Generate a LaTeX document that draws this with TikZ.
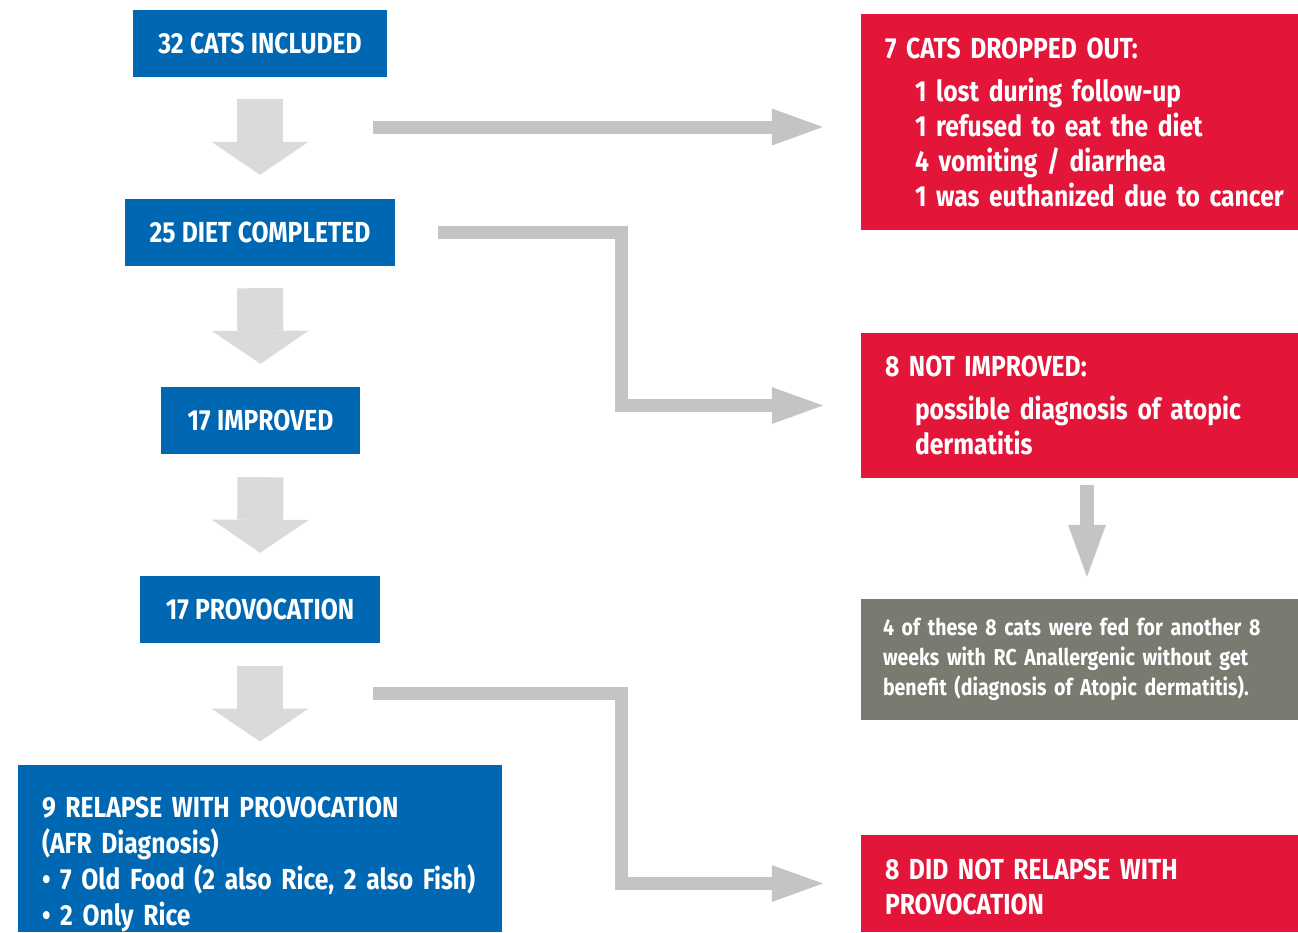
\documentclass[tikz,border=0pt]{standalone}
\usepackage{fontspec}
\setmainfont{Fira Sans}[FakeStretch=0.85]
\usepackage{tikz}
\usetikzlibrary{arrows.meta,calc,positioning}

\definecolor{cblue}{RGB}{0,104,179}
\definecolor{cred}{RGB}{227,22,58}
\definecolor{cgrey}{RGB}{121,122,112}
\definecolor{cdown}{RGB}{218,218,218}
\definecolor{celbow}{RGB}{196,196,196}

\newcommand\tightwords{\spaceskip=0.22em\relax\hyphenpenalty=10000\relax}

\tikzset{
  bluebox/.style={fill=cblue,text=white,font=\fontsize{29}{35}\selectfont\bfseries\tightwords,
    minimum height=67pt,inner sep=0pt},
  redbox/.style={fill=cred,text=white,font=\fontsize{29}{35}\selectfont\bfseries\tightwords,
    text width=389pt,inner xsep=24pt,inner ysep=0pt,align=left},
  greybox/.style={fill=cgrey,text=white,font=\fontsize{23}{30}\selectfont\bfseries\tightwords,
    text width=393pt,inner xsep=22pt,inner ysep=0pt,align=left},
  fatdown/.style={cdown,line width=46pt,-{Triangle[length=33pt,width=97pt,line width=0pt]}},
  elbow/.style={celbow,line width=13pt,line join=miter,
    -{Triangle[length=51pt,width=37pt,line width=0pt]}},
  thindown/.style={celbow,line width=14pt,-{Triangle[length=52pt,width=38pt,line width=0pt]}}
}

\begin{document}
\begin{tikzpicture}[x=1pt,y=-1pt,>=Stealth]
  \useasboundingbox (0,0) rectangle (1298,932);
  % left column
  \node[bluebox,minimum width=254pt] (incl) at (260,43.5) {32 CATS INCLUDED};
  \node[bluebox,minimum width=270pt] (compl) at (260,232.5) {25 DIET COMPLETED};
  \node[bluebox,minimum width=199pt] (impr) at (260.5,420.5) {17 IMPROVED};
  \node[bluebox,minimum width=240pt] (prov) at (260,609.5) {17 PROVOCATION};
  \node[bluebox,font=\fontsize{29}{36}\selectfont\bfseries\tightwords,text width=436pt,inner xsep=24pt,
    minimum height=167pt,align=left] (relapse) at (260,848.5)
    {\rule{0pt}{53pt}9 RELAPSE WITH PROVOCATION\\(AFR Diagnosis)\\\textbullet\ 7 Old Food (2 also Rice, 2 also Fish)\\\textbullet\ 2 Only Rice};
  % right column
  \node[redbox,minimum height=216pt] (drop) at (1079.5,122)
    {7 CATS DROPPED OUT:\\[8pt]
     \hspace*{30pt}1 lost during follow-up\\
     \hspace*{30pt}1 refused to eat the diet\\
     \hspace*{30pt}4 vomiting / diarrhea\\
     \hspace*{30pt}\mbox{1 was euthanized due to cancer}};
  \node[redbox,minimum height=145pt] (notimpr) at (1079.5,405.5)
    {8 NOT IMPROVED:\\[8pt]
     \hspace*{30pt}possible diagnosis of atopic\\
     \hspace*{30pt}dermatitis};
  \node[greybox,minimum height=121pt] (atopic) at (1079.5,659.5)
    {4 of these 8 cats were fed for another 8\\weeks with RC Anallergenic without get\\benefit (diagnosis of Atopic dermatitis).};
  \node[redbox,minimum height=97pt] (norel) at (1079.5,883.5)
    {\rule{0pt}{28pt}8 DID NOT RELAPSE WITH\\PROVOCATION};
  % down arrows
  \draw[fatdown,shorten <=22pt,shorten >=24pt] (incl.south) -- (compl.north);
  \draw[fatdown,shorten <=22pt,shorten >=23pt] (compl.south) -- (impr.north);
  \draw[fatdown,shorten <=23pt,shorten >=23pt] (impr.south) -- (prov.north);
  \draw[fatdown,shorten <=23pt,shorten >=23pt] (prov.south) -- (relapse.north);
  \draw[thindown,shorten <=7pt,shorten >=22pt] (notimpr.south -| 1087,0) -- (atopic.north -| 1087,0);
  % side arrows
  \coordinate (out1) at (373,127);
  \draw[elbow,shorten >=38pt] (out1) -- (out1 -| drop.west);
  \coordinate (bend2) at (621,300);
  \draw[elbow,shorten <=43pt,shorten >=38pt] (compl.east) -| (bend2) |- (notimpr.west);
  \coordinate (out3) at (373,693);
  \coordinate (bend3) at (621,800);
  \draw[elbow,shorten >=38pt] (out3) -| (bend3) |- (norel.west);
\end{tikzpicture}
\end{document}
